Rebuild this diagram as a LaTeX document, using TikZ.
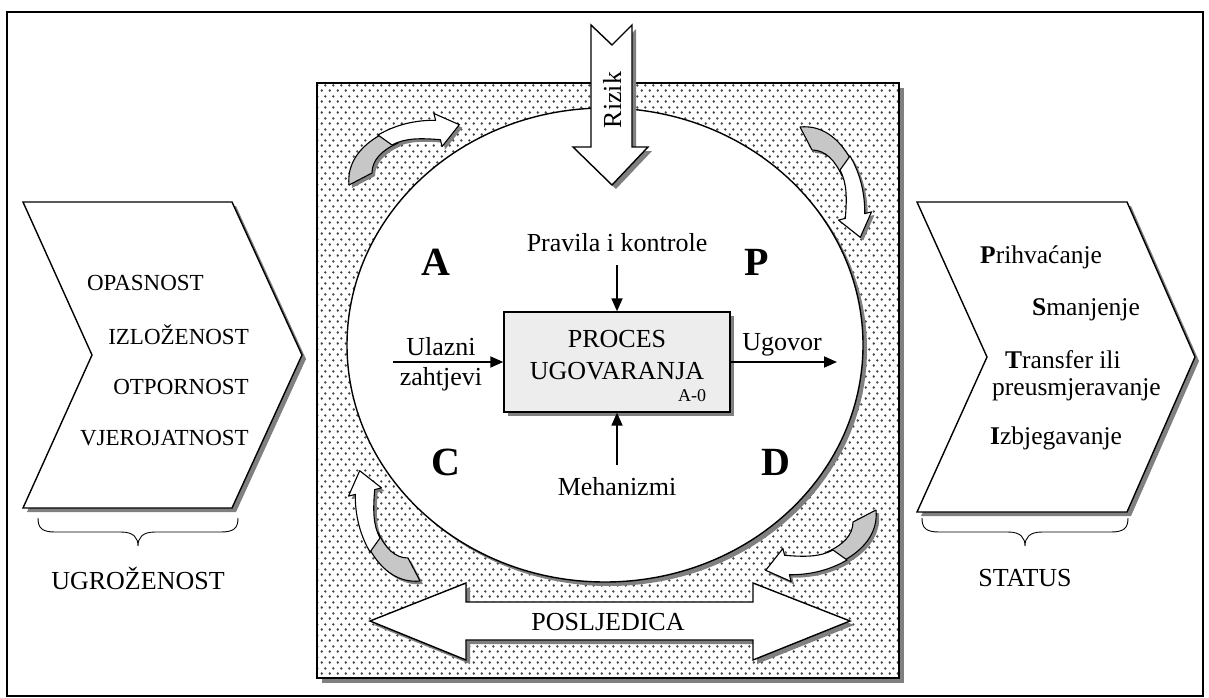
\documentclass[tikz,border=0pt]{standalone}
\usepackage{fontspec}
\setmainfont{Liberation Serif}
\usetikzlibrary{arrows.meta,patterns.meta}
\pgfdeclarepattern{
  name=stipple,
  type=uncolored,
  bottom left={\pgfpoint{0pt}{0pt}},
  top right={\pgfpoint{8pt}{11pt}},
  tile size={\pgfpoint{8pt}{11pt}},
  code={
    \pgfpathcircle{\pgfpoint{2pt}{2.75pt}}{1.45pt}
    \pgfpathcircle{\pgfpoint{6pt}{8.25pt}}{1.45pt}
    \pgfusepath{fill}
  }
}
\tikzset{
  shadowfill/.style={fill=black!50,draw=none},
  outline/.style={draw=black,line width=1.4pt},
  conn/.style={line width=1.8pt,-{Triangle[length=13pt,width=11pt]}},
  lbl/.style={font=\fontsize{26}{28}\selectfont,inner sep=0pt},
  chevtxt/.style={font=\fontsize{23}{25}\selectfont,inner sep=0pt},
  stattxt/.style={font=\fontsize{25.5}{27}\selectfont,inner sep=0pt,anchor=west},
  bigletter/.style={font=\fontsize{40}{42}\selectfont\bfseries,inner sep=0pt},
}
\newcommand\crvgray{(-51,35) .. controls (-53,15) and (-42,-3) .. (-18,-16) -- (-2,-7) .. controls (-18,0) and (-28,10) .. (-28,23) -- cycle}
\newcommand\crvwhite{(-22,-15) .. controls (-5,-25) and (15,-30) .. (35.6,-29.7) -- (33.9,-36.5) -- (59.3,-25.3) -- (42.1,-3.5) -- (40.4,-10.3) .. controls (20,-12) and (5,-12) .. (-8,-5) -- cycle}
\newcommand\curvedarrow[3]{%
  \begin{scope}[shift={(#1+3,#2+3)},rotate=-#3]
    \fill[shadowfill] \crvgray;
    \fill[shadowfill] \crvwhite;
  \end{scope}
  \begin{scope}[shift={(#1,#2)},rotate=-#3]
    \filldraw[fill=black!22,draw=black,line width=1.1pt,line join=round] \crvgray;
    \filldraw[fill=white,draw=black,line width=1.1pt,line join=round] \crvwhite;
  \end{scope}}
\begin{document}
\begin{tikzpicture}[x=1pt,y=-1pt]
\useasboundingbox (0,0) rectangle (1209,698);
% outer frame
\draw[line width=1.2pt] (7,12) rectangle (1203,696);

% stippled panel
\fill[shadowfill] (322,88) rectangle (904,683);
\fill[white] (317,83) rectangle (899,678);
\fill[pattern=stipple,pattern color=black!72] (317,83) rectangle (899,678);
\draw[outline] (317,83) rectangle (899,678);

% ellipse
\fill[shadowfill] (609,349) ellipse [x radius=258,y radius=237];
\filldraw[fill=white,outline] (605,345) ellipse [x radius=258,y radius=237];

% Rizik arrow
\fill[shadowfill,shift={(4,4)}] (591,25) -- (612,45) -- (632,25) -- (632,147) -- (648,147) -- (612,185) -- (573,147) -- (591,147) -- cycle;
\filldraw[fill=white,outline,line join=miter] (591,25) -- (612,45) -- (632,25) -- (632,147) -- (648,147) -- (612,185) -- (573,147) -- (591,147) -- cycle;
\node[lbl,rotate=90] (rizik) at (612,100) {Rizik};

% curved arrows in corners
\curvedarrow{400}{150}{0}
\curvedarrow{835}{178}{90}
\curvedarrow{825}{545}{180}
\curvedarrow{385}{530}{270}

% POSLJEDICA double arrow
\fill[shadowfill,shift={(4,4)}] (370,621) -- (466,583) -- (466,602) -- (753,602) -- (753,583) -- (850,621) -- (753,660) -- (753,640) -- (466,640) -- (466,660) -- cycle;
\filldraw[fill=white,outline,line join=miter] (370,621) -- (466,583) -- (466,602) -- (753,602) -- (753,583) -- (850,621) -- (753,660) -- (753,640) -- (466,640) -- (466,660) -- cycle;
\node[lbl] (posl) at (608,622) {POSLJEDICA};

% central box
\fill[shadowfill] (508,316) rectangle (734,416);
\node[draw=black,line width=1.4pt,fill=black!7,minimum width=226pt,minimum height=100pt,inner sep=0pt] (box) at (617,362) {};
\node[lbl] (proc1) at (617,339) {PROCES};
\node[lbl] (proc2) at (617,371) {UGOVARANJA};
\node[font=\fontsize{18}{20}\selectfont,inner sep=0pt] (a0) at (692,396) {A-0};

% connectors
\node[lbl] (pravila) at (617,243) {Pravila i kontrole};
\coordinate (ctop) at (617,265);
\draw[conn] (ctop) -- (box.north);
\node[lbl] (meh) at (617,487) {Mehanizmi};
\coordinate (mtop) at (617,465);
\draw[conn] (mtop) -- (box.south);
\coordinate (inL) at (393,362);
\draw[conn] (inL) -- (box.west);
\node[lbl] (ul1) at (441,347) {Ulazni};
\node[lbl] (ul2) at (441,379) {zahtjevi};
\coordinate (outR) at (837,362);
\draw[conn] (box.east) -- (outR);
\node[lbl] (ugov) at (782,345) {Ugovor};

% quadrant letters
\node[bigletter] (la) at (436,262) {A};
\node[bigletter] (lp) at (757,262) {P};
\node[bigletter] (lc) at (446,462) {C};
\node[bigletter] (ld) at (776,462) {D};

% left chevron
\fill[shadowfill,shift={(4,4)}] (23,202) -- (232,202) -- (302,355) -- (232,508) -- (23,508) -- (92,355) -- cycle;
\filldraw[fill=white,outline,line join=miter] (23,202) -- (232,202) -- (302,355) -- (232,508) -- (23,508) -- (92,355) -- cycle;
\node[chevtxt,anchor=east] (t1) at (204,283) {OPASNOST};
\node[chevtxt,anchor=east] (t2) at (249,335) {IZLOŽENOST};
\node[chevtxt,anchor=east] (t3) at (249,387) {OTPORNOST};
\node[chevtxt,anchor=east] (t4) at (249,438) {VJEROJATNOST};

% right chevron
\fill[shadowfill,shift={(4,4)}] (917,202) -- (1127,202) -- (1195,357) -- (1127,512) -- (917,512) -- (987,357) -- cycle;
\filldraw[fill=white,outline,line join=miter] (917,202) -- (1127,202) -- (1195,357) -- (1127,512) -- (917,512) -- (987,357) -- cycle;
\node[stattxt] (s1) at (980,257) {\textbf{P}rihvaćanje};
\node[stattxt] (s2) at (1032,310) {\textbf{S}manjenje};
\node[stattxt] (s3) at (1005,360) {\textbf{T}ransfer ili};
\node[stattxt] (s4) at (992,390) {preusmjeravanje};
\node[stattxt] (s5) at (990,438) {\textbf{I}zbjegavanje};

% braces
\draw[line width=0.9pt] (38,518) .. controls (38,528) and (42,532) .. (55,532) -- (121,532) .. controls (134,532) and (138,538) .. (138,546) .. controls (138,538) and (142,532) .. (155,532) -- (221,532) .. controls (234,532) and (238,528) .. (238,518);
\node[lbl] (ugr) at (138,578) {UGROŽENOST};
\draw[line width=0.9pt] (922,518) .. controls (922,528) and (926,532) .. (939,532) -- (1008,532) .. controls (1021,532) and (1025,538) .. (1025,546) .. controls (1025,538) and (1029,532) .. (1042,532) -- (1111,532) .. controls (1124,532) and (1128,528) .. (1128,518);
\node[lbl] (stat) at (1025,578) {STATUS};
\end{tikzpicture}
\end{document}
